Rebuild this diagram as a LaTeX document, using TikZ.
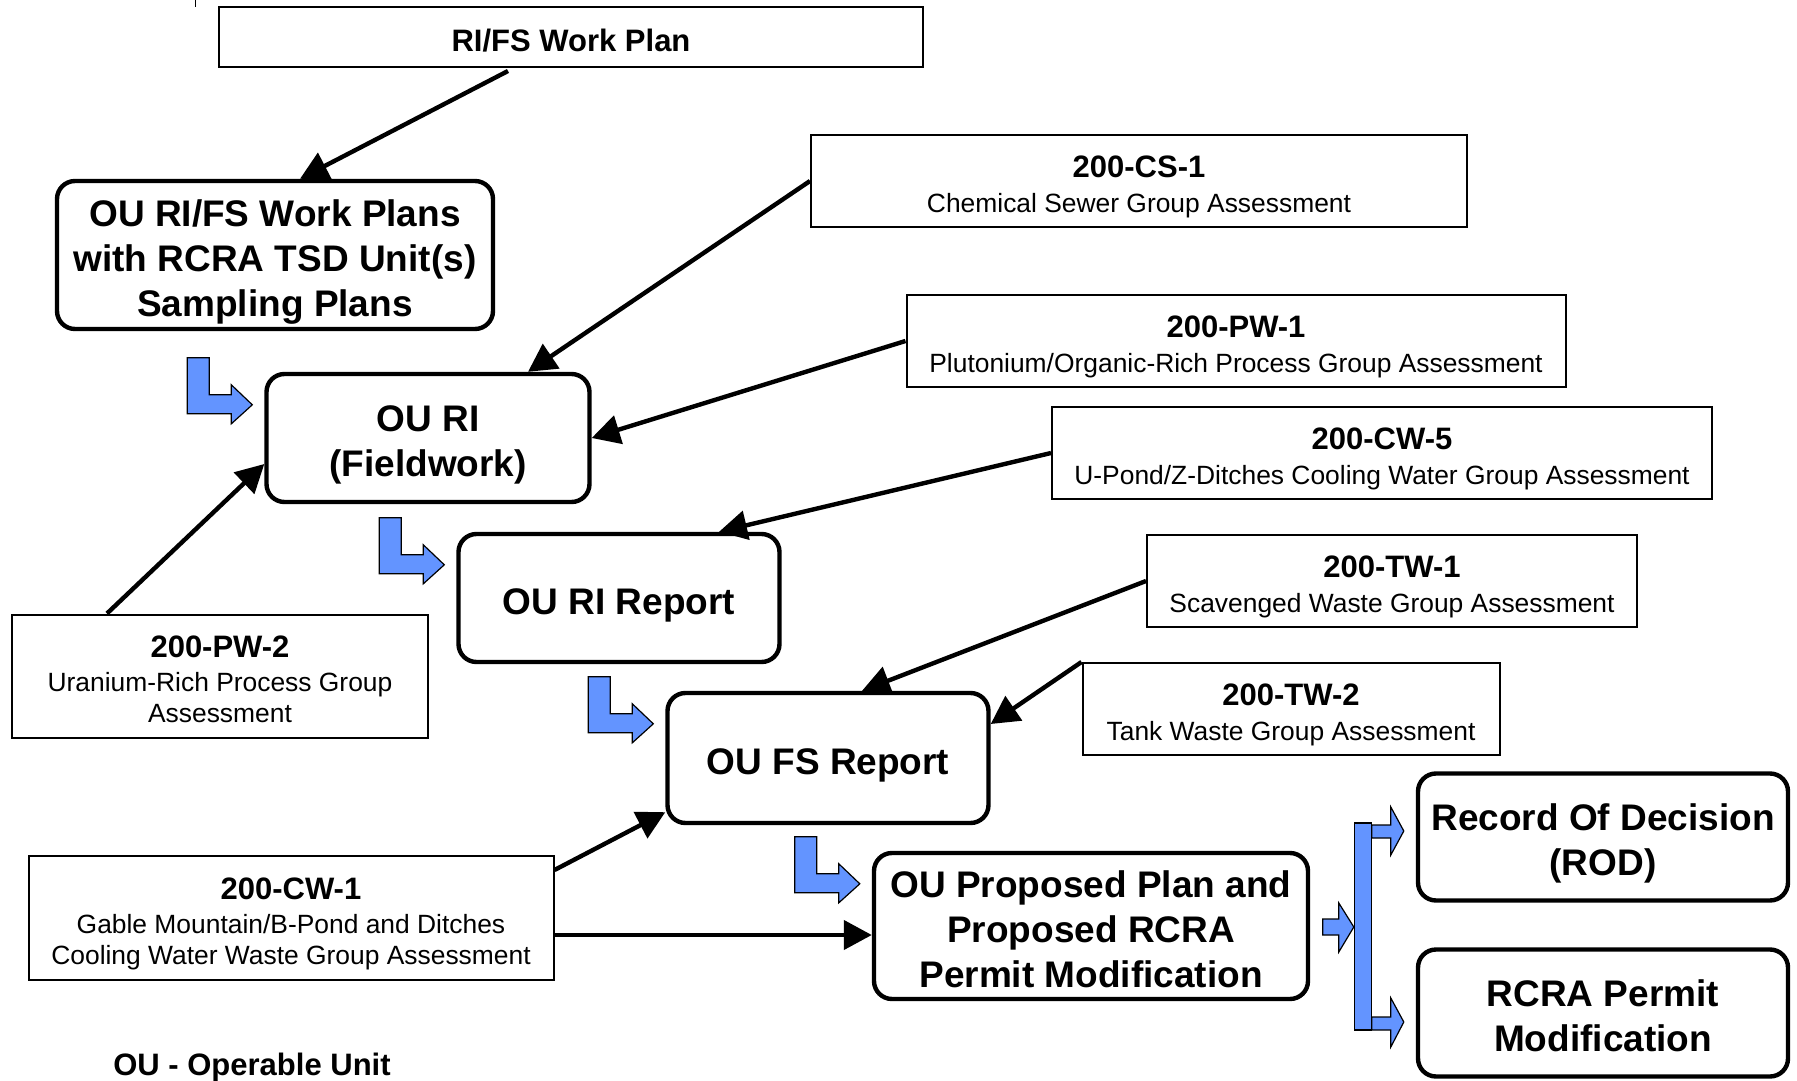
\documentclass[tikz,border=0pt]{standalone}
\usepackage{fontspec}
\setmainfont{Liberation Sans}
\usepackage{tikz}
\usetikzlibrary{arrows.meta,calc}

\definecolor{flowblue}{RGB}{99,148,255}
\newcommand\stagefont{\fontsize{37}{44.8}\selectfont\bfseries}
\newcommand\unitfont{\fontsize{26.4}{31}\selectfont}
\newcommand\unithead{\fontsize{31}{36}\selectfont\bfseries}

\tikzset{
  stage/.style={shape=rectangle, draw=black, line width=4.4pt, rounded corners=18pt, align=center, font=\stagefont, inner sep=0pt,
    text height=41pt, text depth=8.5pt},
  unit/.style={shape=rectangle, draw=black, line width=2pt, align=center, font=\unitfont, inner sep=0pt,
    text height=34pt, text depth=5.8pt},
  feed/.style={-{Triangle[length=28pt,width=29pt]}, line width=4.4pt},
  flow/.style={fill=flowblue, draw=black, line width=1.2pt, line join=miter},
  larrow/.pic={\draw[flow] (-65,-47) -- (-43,-47) -- (-43,-10) -- (-21,-10) -- (-21,-20) -- (0,0) -- (-21,19) -- (-21,9) -- (-65,9) -- cycle;}
}

\begin{document}
\begin{tikzpicture}[x=1pt,y=-1pt]
  \useasboundingbox (0,0) rectangle (1797,1081);
  %% stages
  \node[unit, minimum width=704pt, minimum height=60pt, font=\unithead] (plan) at (571,37) {RI/FS Work Plan};
  \node[stage, minimum width=436pt, minimum height=148pt, text height=130.6pt] (ouplans) at (275,255) {OU RI/FS Work Plans\\with RCRA TSD Unit(s)\\Sampling Plans};
  \node[stage, minimum width=323pt, minimum height=128pt, text height=85.8pt] (ouri) at (428,438) {OU RI\\(Fieldwork)};
  \node[stage, minimum width=321pt, minimum height=128pt] (rireport) at (619,598) {OU RI Report};
  \node[stage, minimum width=321pt, minimum height=130pt] (fsreport) at (828,758) {OU FS Report};
  \node[stage, minimum width=434pt, minimum height=146pt, text height=130.6pt] (proposed) at (1091,926) {OU Proposed Plan and\\Proposed RCRA\\Permit Modification};
  \node[stage, minimum width=370pt, minimum height=127pt, text height=85.8pt] (rod) at (1603,837) {Record Of Decision\\(ROD)};
  \node[stage, minimum width=370pt, minimum height=127pt, text height=85.8pt] (permit) at (1603,1013) {RCRA Permit\\Modification};
  %% group assessments
  \node[unit, minimum width=656pt, minimum height=92pt, text height=69pt] (cs1) at (1139,181) {{\unithead 200-CS-1}\\[4pt]Chemical Sewer Group Assessment};
  \node[unit, minimum width=659pt, minimum height=92pt, text height=69pt] (pw1) at (1236,341) {{\unithead 200-PW-1}\\[4pt]Plutonium/Organic-Rich Process Group Assessment};
  \node[unit, minimum width=660pt, minimum height=92pt, text height=69pt] (cw5) at (1382,453) {{\unithead 200-CW-5}\\[4pt]U-Pond/Z-Ditches Cooling Water Group Assessment};
  \node[unit, minimum width=490pt, minimum height=92pt, text height=69pt] (tw1) at (1392,581) {{\unithead 200-TW-1}\\[4pt]Scavenged Waste Group Assessment};
  \node[unit, minimum width=417pt, minimum height=92pt, text height=69pt] (tw2) at (1291,709) {{\unithead 200-TW-2}\\[4pt]Tank Waste Group Assessment};
  \node[unit, minimum width=416pt, minimum height=123pt, text height=99pt] (pw2) at (220,676) {{\unithead 200-PW-2}\\[3pt]Uranium-Rich Process Group\\Assessment};
  \node[unit, minimum width=525pt, minimum height=124pt, text height=99pt] (cw1) at (291,918) {{\unithead 200-CW-1}\\[3pt]Gable Mountain/B-Pond and Ditches\\Cooling Water Waste Group Assessment};
  \node[anchor=base, font=\unithead] (legend) at (252,1075) {OU - Operable Unit};
  \draw[line width=1pt] (195,0) -- (195,7);
  %% lines
  \draw[feed] ($(plan.south)+(-63,3)$) -- ($(ouplans.north)+(25,0)$);
  \draw[feed] (cs1.west) -- ($(ouri.north)+(100,0)$);
  \draw[feed] (pw1.west) -- (ouri.east);
  \draw[feed] ($(pw2.north)+(-113,0)$) -- ($(ouri.west)+(0,26)$);
  \draw[feed] (cw5.west) -- ($(rireport.north)+(100,0)$);
  \draw[feed] (tw1.west) -- ($(fsreport.north)+(34,0)$);
  \draw[feed] (tw2.north west) -- ($(fsreport.east)+(0,-34)$);
  \draw[feed] ($(cw1.north east)+(0,15)$) -- ($(fsreport.south west)+(0,-13)$);
  \draw[feed] ($(cw1.east)+(0,17)$) coordinate (c1) -- (c1 -| proposed.west);
  %% flow arrows
  \foreach \b in {ouri,rireport,fsreport,proposed}
    \pic at ($(\b.north west)+(-12,33)$) {larrow};
  \begin{scope}[shift={($(rod.west)+(-61,-14)$)}]
    \draw[flow] (17,2) -- (36,2) -- (36,-16) -- (49,8) -- (36,32) -- (36,15) -- (17,15) -- cycle;
    \draw[flow] (17,194) -- (36,194) -- (36,175) -- (49,199) -- (36,224) -- (36,207) -- (17,207) -- cycle;
    \draw[flow] (-32,96) -- (-16,96) -- (-16,80) -- (-1,104) -- (-16,129) -- (-16,112) -- (-32,112) -- cycle;
    \draw[flow] (0,0) rectangle (17,207);
  \end{scope}
\end{tikzpicture}
\end{document}
